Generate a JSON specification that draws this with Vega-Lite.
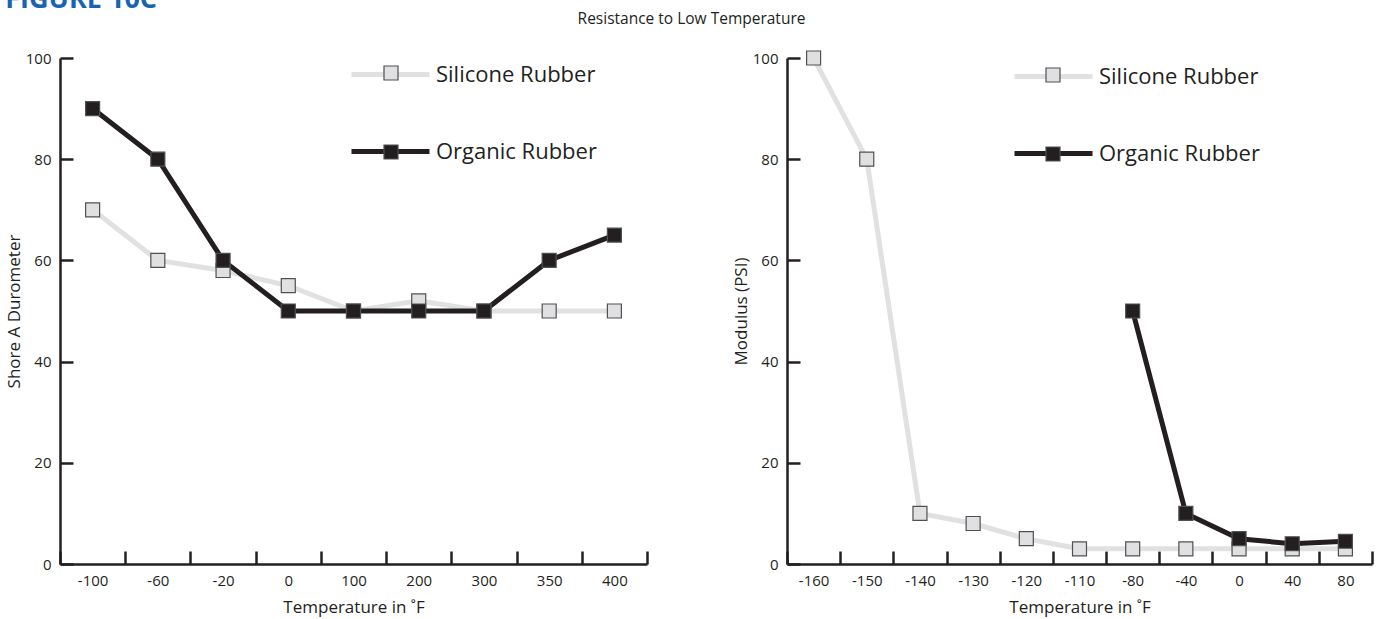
{
  "$schema": "https://vega.github.io/schema/vega-lite/v6.json",
  "background": "white",
  "padding": {"left": 5, "top": -14, "right": 5, "bottom": 5},
  "datasets": {
    "left": [
      {"temp": -100, "series": "Silicone Rubber", "value": 70},
      {"temp": -60, "series": "Silicone Rubber", "value": 60},
      {"temp": -20, "series": "Silicone Rubber", "value": 58},
      {"temp": 0, "series": "Silicone Rubber", "value": 55},
      {"temp": 100, "series": "Silicone Rubber", "value": 50},
      {"temp": 200, "series": "Silicone Rubber", "value": 52},
      {"temp": 300, "series": "Silicone Rubber", "value": 50},
      {"temp": 350, "series": "Silicone Rubber", "value": 50},
      {"temp": 400, "series": "Silicone Rubber", "value": 50},
      {"temp": -100, "series": "Organic Rubber", "value": 90},
      {"temp": -60, "series": "Organic Rubber", "value": 80},
      {"temp": -20, "series": "Organic Rubber", "value": 60},
      {"temp": 0, "series": "Organic Rubber", "value": 50},
      {"temp": 100, "series": "Organic Rubber", "value": 50},
      {"temp": 200, "series": "Organic Rubber", "value": 50},
      {"temp": 300, "series": "Organic Rubber", "value": 50},
      {"temp": 350, "series": "Organic Rubber", "value": 60},
      {"temp": 400, "series": "Organic Rubber", "value": 65}
    ],
    "right": [
      {"temp": -160, "series": "Silicone Rubber", "value": 100},
      {"temp": -150, "series": "Silicone Rubber", "value": 80},
      {"temp": -140, "series": "Silicone Rubber", "value": 10},
      {"temp": -130, "series": "Silicone Rubber", "value": 8},
      {"temp": -120, "series": "Silicone Rubber", "value": 5},
      {"temp": -110, "series": "Silicone Rubber", "value": 3},
      {"temp": -80, "series": "Silicone Rubber", "value": 3},
      {"temp": -40, "series": "Silicone Rubber", "value": 3},
      {"temp": 0, "series": "Silicone Rubber", "value": 3},
      {"temp": 40, "series": "Silicone Rubber", "value": 3},
      {"temp": 80, "series": "Silicone Rubber", "value": 3},
      {"temp": -80, "series": "Organic Rubber", "value": 50},
      {"temp": -40, "series": "Organic Rubber", "value": 10},
      {"temp": 0, "series": "Organic Rubber", "value": 5},
      {"temp": 40, "series": "Organic Rubber", "value": 4},
      {"temp": 80, "series": "Organic Rubber", "value": 4.5}
    ]
  },
  "bounds": "flush",
  "spacing": 140,
  "hconcat": [
    {
      "width": 587,
      "height": 506,
      "data": {"name": "left"},
      "title": {"text": "FIGURE 10C", "anchor": "start", "frame": "bounds", "baseline": "alphabetic", "offset": -2, "font": "Open Sans", "fontSize": 27, "fontWeight": "bold", "color": "#1764b0"},
      "encoding": {
        "x": {"field": "temp", "type": "ordinal", "bandPosition": 0.5, "scale": {"type": "band", "paddingInner": 0, "paddingOuter": 0}, "axis": {"title": "Temperature in ˚F", "labelAngle": 0, "tickBand": "extent"}},
        "y": {"field": "value", "type": "quantitative", "scale": {"domain": [0, 100]}, "axis": {"title": "Shore A Durometer", "values": [0, 20, 40, 60, 80, 100]}}
      },
      "layer": [
        {
          "mark": {"type": "line", "strokeWidth": 5},
          "encoding": {
            "color": {"field": "series", "type": "nominal", "scale": {"domain": ["Silicone Rubber", "Organic Rubber"], "range": ["#e0e1e2", "#231f20"]},
              "legend": {"orient": "none", "legendX": 289, "legendY": -25, "title": null, "padding": 0, "symbolType": "stroke", "symbolSize": 6084, "symbolStrokeWidth": 5, "labelFont": "Open Sans", "labelFontSize": 22, "labelColor": "#231f20", "labelOffset": 4, "labelLimit": 400, "rowPadding": 24}}
          }
        },
        {
          "mark": {"type": "square", "size": 196, "opacity": 1, "stroke": "#505050", "strokeWidth": 1.2},
          "encoding": {
            "fill": {"field": "series", "type": "nominal", "sort": "descending", "scale": {"range": ["#e0e0e2", "#231f20"]},
              "legend": {"orient": "none", "legendX": 323, "legendY": 7, "title": null, "padding": 0, "symbolType": "square", "symbolSize": 196, "symbolOpacity": 1, "symbolStrokeColor": "#505050", "symbolStrokeWidth": 1.2, "labelExpr": "''", "labelFontSize": 1, "labelOffset": 0, "rowPadding": 59}}
          }
        }
      ]
    },
    {
      "width": 585,
      "height": 506,
      "data": {"name": "right"},
      "title": {"text": "Resistance to Low Temperature", "anchor": "middle", "frame": "group", "dx": -388, "baseline": "alphabetic", "offset": -4, "font": "Open Sans", "fontSize": 15.5, "fontWeight": "normal", "color": "#231f20"},
      "encoding": {
        "x": {"field": "temp", "type": "ordinal", "bandPosition": 0.5, "scale": {"type": "band", "paddingInner": 0, "paddingOuter": 0}, "axis": {"title": "Temperature in ˚F", "labelAngle": 0, "tickBand": "extent"}},
        "y": {"field": "value", "type": "quantitative", "scale": {"domain": [0, 100]}, "axis": {"title": "Modulus (PSI)", "values": [0, 20, 40, 60, 80, 100]}}
      },
      "layer": [
        {
          "mark": {"type": "line", "strokeWidth": 5},
          "encoding": {
            "color": {"field": "series", "type": "nominal", "scale": {"domain": ["Silicone Rubber", "Organic Rubber"], "range": ["#e0e1e2", "#231f20"]},
              "legend": {"orient": "none", "legendX": 225, "legendY": -23, "title": null, "padding": 0, "symbolType": "stroke", "symbolSize": 6084, "symbolStrokeWidth": 5, "labelFont": "Open Sans", "labelFontSize": 22, "labelColor": "#231f20", "labelOffset": 4, "labelLimit": 400, "rowPadding": 24}}
          }
        },
        {
          "mark": {"type": "square", "size": 196, "opacity": 1, "stroke": "#505050", "strokeWidth": 1.2},
          "encoding": {
            "fill": {"field": "series", "type": "nominal", "sort": "descending", "scale": {"range": ["#e0e0e2", "#231f20"]},
              "legend": {"orient": "none", "legendX": 258, "legendY": 9, "title": null, "padding": 0, "symbolType": "square", "symbolSize": 196, "symbolOpacity": 1, "symbolStrokeColor": "#505050", "symbolStrokeWidth": 1.2, "labelExpr": "''", "labelFontSize": 1, "labelOffset": 0, "rowPadding": 59}}
          }
        }
      ]
    }
  ],
  "resolve": {
    "scale": {"x": "independent", "y": "independent", "color": "independent", "fill": "independent"},
    "legend": {"color": "independent", "fill": "independent"}
  },
  "config": {
    "font": "Open Sans",
    "view": {"stroke": null},
    "axis": {"domainColor": "#231f20", "domainWidth": 2.5, "tickColor": "#231f20", "tickWidth": 2.5, "tickSize": -13, "labelFont": "Open Sans", "labelFontSize": 15, "labelColor": "#231f20", "titleFont": "Open Sans", "titleFontSize": 17, "titleFontWeight": "normal", "titleColor": "#231f20", "grid": false, "labelPadding": 22},
    "axisX": {"titlePadding": 11},
    "axisY": {"titlePadding": 2}
  }
}
